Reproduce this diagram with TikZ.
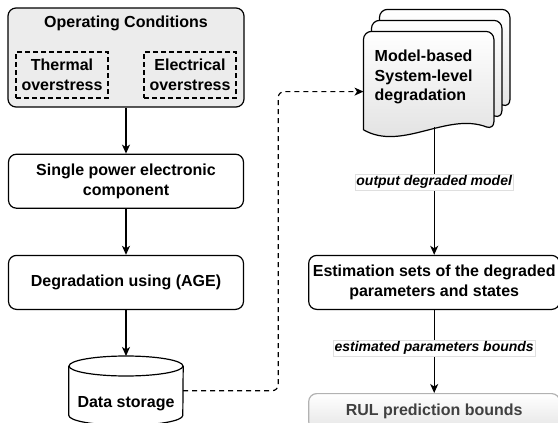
\documentclass[tikz,border=0pt]{standalone}
\usepackage{fontspec}
\setmainfont{Liberation Sans}
\usetikzlibrary{positioning, arrows.meta, calc}

\begin{document}
\begin{tikzpicture}[x=1pt, y=-1pt, node distance=46pt,
  font=\fontsize{16}{19.5}\selectfont\bfseries]
\tikzstyle{every node}=[align=center, inner sep=0pt]
\tikzstyle{link}=[line width=1.2pt, -{Stealth[length=9pt, width=8pt, inset=2.5pt]}]
\tikzstyle{block}=[draw, line width=1.2pt, rounded corners=8pt, minimum width=235pt, minimum height=54pt]
\tikzstyle{stress}=[draw, line width=1.2pt, dash pattern=on 5pt off 3pt, minimum width=92pt, minimum height=46pt]
\tikzstyle{lbl}=[fill=white, draw=gray!25, line width=0.4pt, inner sep=1.5pt, font=\fontsize{14}{16}\selectfont\bfseries\itshape]
\tikzstyle{every edge}=[draw, link]

\useasboundingbox (0,0) rectangle (558,423);

% left column
\node[block, fill=gray!15, minimum width=236pt, minimum height=99pt,
  label={[anchor=north, yshift=-8pt]north:Operating Conditions}] (OC) at (126,57.5) {};
\node[stress] (TH) at ($(OC.center)+(-64,17.5)$) {Thermal\\overstress};
\node[stress] (EL) at ($(OC.center)+(64,17.5)$) {Electrical\\overstress};
\node[block, below=of OC] (SP) {Single power electronic\\component};
\node[block, below=of SP] (DEG) {Degradation using (AGE)};
\node[minimum width=114pt, minimum height=69pt, below=of DEG] (DB) {};

% data storage cylinder
\draw[line width=1.2pt] ($(DB.north)+(0,10)$) ellipse [x radius=57pt, y radius=10pt];
\draw[line width=1.2pt] ($(DB.north west)+(0,10)$) -- ($(DB.south west)+(0,-10)$)
  arc [start angle=180, end angle=360, x radius=57pt, y radius=10pt] -- ($(DB.north east)+(0,10)$);
\node (DBtext) at ($(DB.center)+(0,13)$) {Data storage};

% right column
\node[block, minimum width=251pt, right=64pt of DEG] (EST) {Estimation sets of the degraded\\parameters and states};
\node[block, draw=gray!60, top color=white, bottom color=gray!20, text=black!75,
  minimum width=251pt, minimum height=36pt, below=83pt of EST] (RUL) {RUL prediction bounds};
\node[minimum width=130pt, minimum height=98pt, above=125pt of EST, xshift=-5.5pt] (DOC) {};

% stacked document pages
\foreach \dx/\dy in {16/-22, 8/-11, 0/0}
  \draw[line width=1.2pt, top color=white, bottom color=gray!25]
    ([shift={(\dx,\dy)}]DOC.south west) [rounded corners=8pt]
    -- ([shift={(\dx,\dy)}]DOC.north west) -- ([shift={(\dx,\dy)}]DOC.north east)
    -- ([shift={(\dx,\dy)}]DOC.south east) [sharp corners]
    .. controls +(-47,-18) and +(38,22) .. ([shift={(\dx,\dy)}]DOC.south west) -- cycle;
\node[anchor=west, align=left] (DOCtext) at ($(DOC.west)+(11,-3.5)$) {Model-based\\System-level\\degradation};

% connectors
\draw (OC) edge (SP)
      (SP) edge (DEG)
      (DEG) edge (DB);
\draw ($(EST.north |- DOC.south)+(0,-3)$) edge node[lbl, pos=0.43] {output degraded model} (EST);
\draw (EST) edge node[lbl, pos=0.46] {estimated parameters bounds} (RUL);
\draw[link, dash pattern=on 5pt off 4pt, rounded corners=6pt]
  (DB.east) -- ++(95,0) |- ($(DOC.west)+(0,11)$);
\end{tikzpicture}
\end{document}
